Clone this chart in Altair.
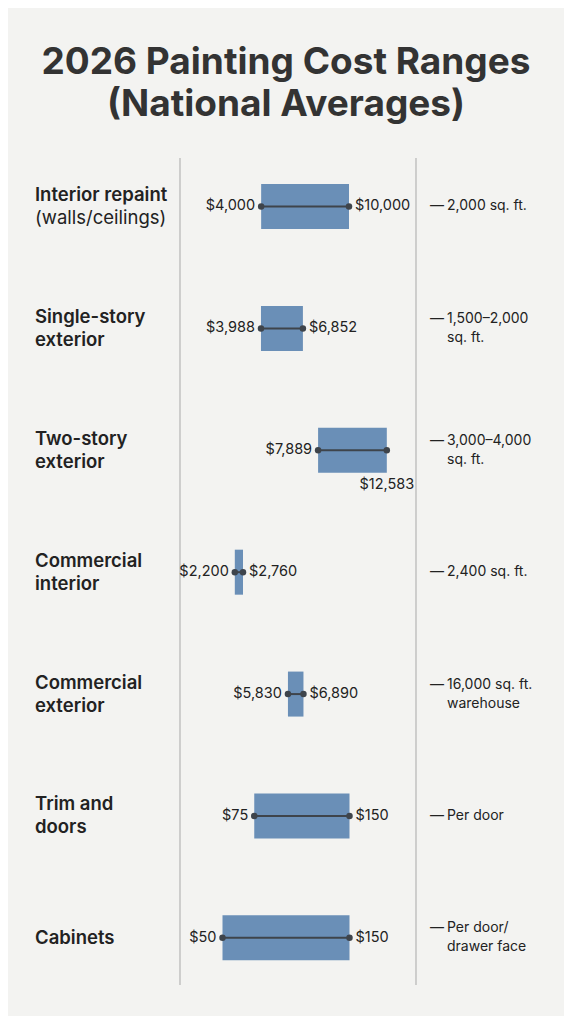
import altair as alt
import pandas as pd

# ---- data ----
categories = ["Interior repaint", "Single-story exterior", "Two-story exterior",
              "Commercial interior", "Commercial exterior", "Trim and doors", "Cabinets"]
label_main = [["Interior repaint"], ["Single-story", "exterior"], ["Two-story", "exterior"],
              ["Commercial", "interior"], ["Commercial", "exterior"], ["Trim and", "doors"],
              ["Cabinets"]]
label_sub = [["(walls/ceilings)"], [], [], [], [], [], []]
low_cost = [4000, 3988, 7889, 2200, 5830, 75, 50]
high_cost = [10000, 6852, 12583, 2760, 6890, 150, 150]
notes = [["2,000 sq. ft."], ["1,500–2,000", "sq. ft."], ["3,000–4,000", "sq. ft."],
         ["2,400 sq. ft."], ["16,000 sq. ft.", "warehouse"], ["Per door"],
         ["Per door/", "drawer face"]]
price_group = ["project", "project", "project", "project", "project", "unit", "unit"]

# ---- build tables ----
df = pd.DataFrame({
    "cat": categories,
    "row": list(range(len(categories))),
    "low": low_cost,
    "high": high_cost,
    "group": price_group,
})

line_rows = []
for i in range(len(categories)):
    lab_lines = [(t, "bold") for t in label_main[i]] + [(t, "regular") for t in label_sub[i]]
    n = len(lab_lines)
    for j, (t, w) in enumerate(lab_lines):
        line_rows.append({"row": i, "text": t, "kind": "label_" + w, "k": j - (n - 1) / 2})
    n = len(notes[i])
    for j, t in enumerate(notes[i]):
        line_rows.append({"row": i, "text": t, "kind": "note", "k": j - (n - 1) / 2})
    line_rows.append({"row": i, "text": "—", "kind": "dash", "k": -(n - 1) / 2})
lines = pd.DataFrame(line_rows)

BAR = "#6a8fb7"
DARK = "#3e444b"
TXT = "#222222"
FONT = "Inter"

yenc = alt.Y("row:Q", axis=None,
             scale=alt.Scale(domain=[-0.3568, 6.6], reverse=True, nice=False, zero=False))

BELOW = "Two-story exterior"


def cost_layers(grp, domain):
    base = alt.Chart(df).transform_filter(alt.datum.group == grp)
    xs = alt.Scale(domain=domain, nice=False, zero=False)
    xl = alt.X("low:Q", scale=xs, axis=None)
    xh = alt.X("high:Q", scale=xs, axis=None)
    bar = base.mark_bar(color=BAR, size=45).encode(x=xl, x2="high:Q", y=yenc)
    rule = base.mark_rule(color=DARK, strokeWidth=2).encode(x=xl, x2="high:Q", y=yenc)
    p1 = base.mark_circle(color=DARK, size=42, opacity=1).encode(x=xl, y=yenc)
    p2 = base.mark_circle(color=DARK, size=42, opacity=1).encode(x=xh, y=yenc)
    tl = base.mark_text(align="right", baseline="middle", dx=-6, font=FONT,
                        fontSize=14.5, color=TXT).encode(
        x=xl, y=yenc, text=alt.Text("low:Q", format="$,.0f"))
    th = base.transform_filter(alt.datum.cat != BELOW).mark_text(
        align="left", baseline="middle", dx=6, font=FONT, fontSize=14.5, color=TXT).encode(
        x=xh, y=yenc, text=alt.Text("high:Q", format="$,.0f"))
    tb = base.transform_filter(alt.datum.cat == BELOW).mark_text(
        align="center", baseline="middle", dy=35, font=FONT, fontSize=14.5, color=TXT).encode(
        x=xh, y=yenc, text=alt.Text("high:Q", format="$,.0f"))
    return alt.layer(bar, rule, p1, p2, tl, th, tb)


layer_project = cost_layers("project", [-13292, 24686])
layer_unit = cost_layers("unit", [-118.9, 318.9])

text_layers = []
styles = {
    "label_bold": dict(x=27, size=18.5, weight=600, lh=23),
    "label_regular": dict(x=27, size=18.5, weight=400, lh=23),
    "note": dict(x=439, size=14, weight=400, lh=19),
    "dash": dict(x=422, size=14, weight=400, lh=19),
}
for kind, st in styles.items():
    for k in (-0.5, 0.0, 0.5):
        text_layers.append(
            alt.Chart(lines)
            .transform_filter((alt.datum.kind == kind) & (alt.datum.k == k))
            .mark_text(align="left", baseline="middle", dy=k * st["lh"], font=FONT,
                       fontSize=st["size"], fontWeight=st["weight"], color=TXT)
            .encode(x=alt.value(st["x"]), y=yenc, text="text:N")
        )

one = pd.DataFrame({"k": [0]})
sep1 = alt.Chart(one).mark_rule(color="#b5b5b5", strokeWidth=1.2).encode(
    x=alt.value(172), y=alt.value(0), y2=alt.value(827))
sep2 = alt.Chart(one).mark_rule(color="#b5b5b5", strokeWidth=1.2).encode(
    x=alt.value(408), y=alt.value(0), y2=alt.value(827))

chart = alt.layer(
    sep1, sep2, layer_project, layer_unit, *text_layers
).resolve_scale(x="independent").properties(
    width=556,
    height=858,
    padding={"left": 0, "right": 0, "top": 150, "bottom": 0},
    autosize=alt.AutoSizeParams(type="none"),
    background="#f3f3f1",
    title=alt.Title(["2026 Painting Cost Ranges", "(National Averages)"],
                    font=FONT, fontSize=37, fontWeight="bold", color="#333333",
                    anchor="middle", lineHeight=42, offset=33),
).configure_view(strokeWidth=0)

chart.save("out.html", embed_options={"renderer": "svg", "actions": False})
